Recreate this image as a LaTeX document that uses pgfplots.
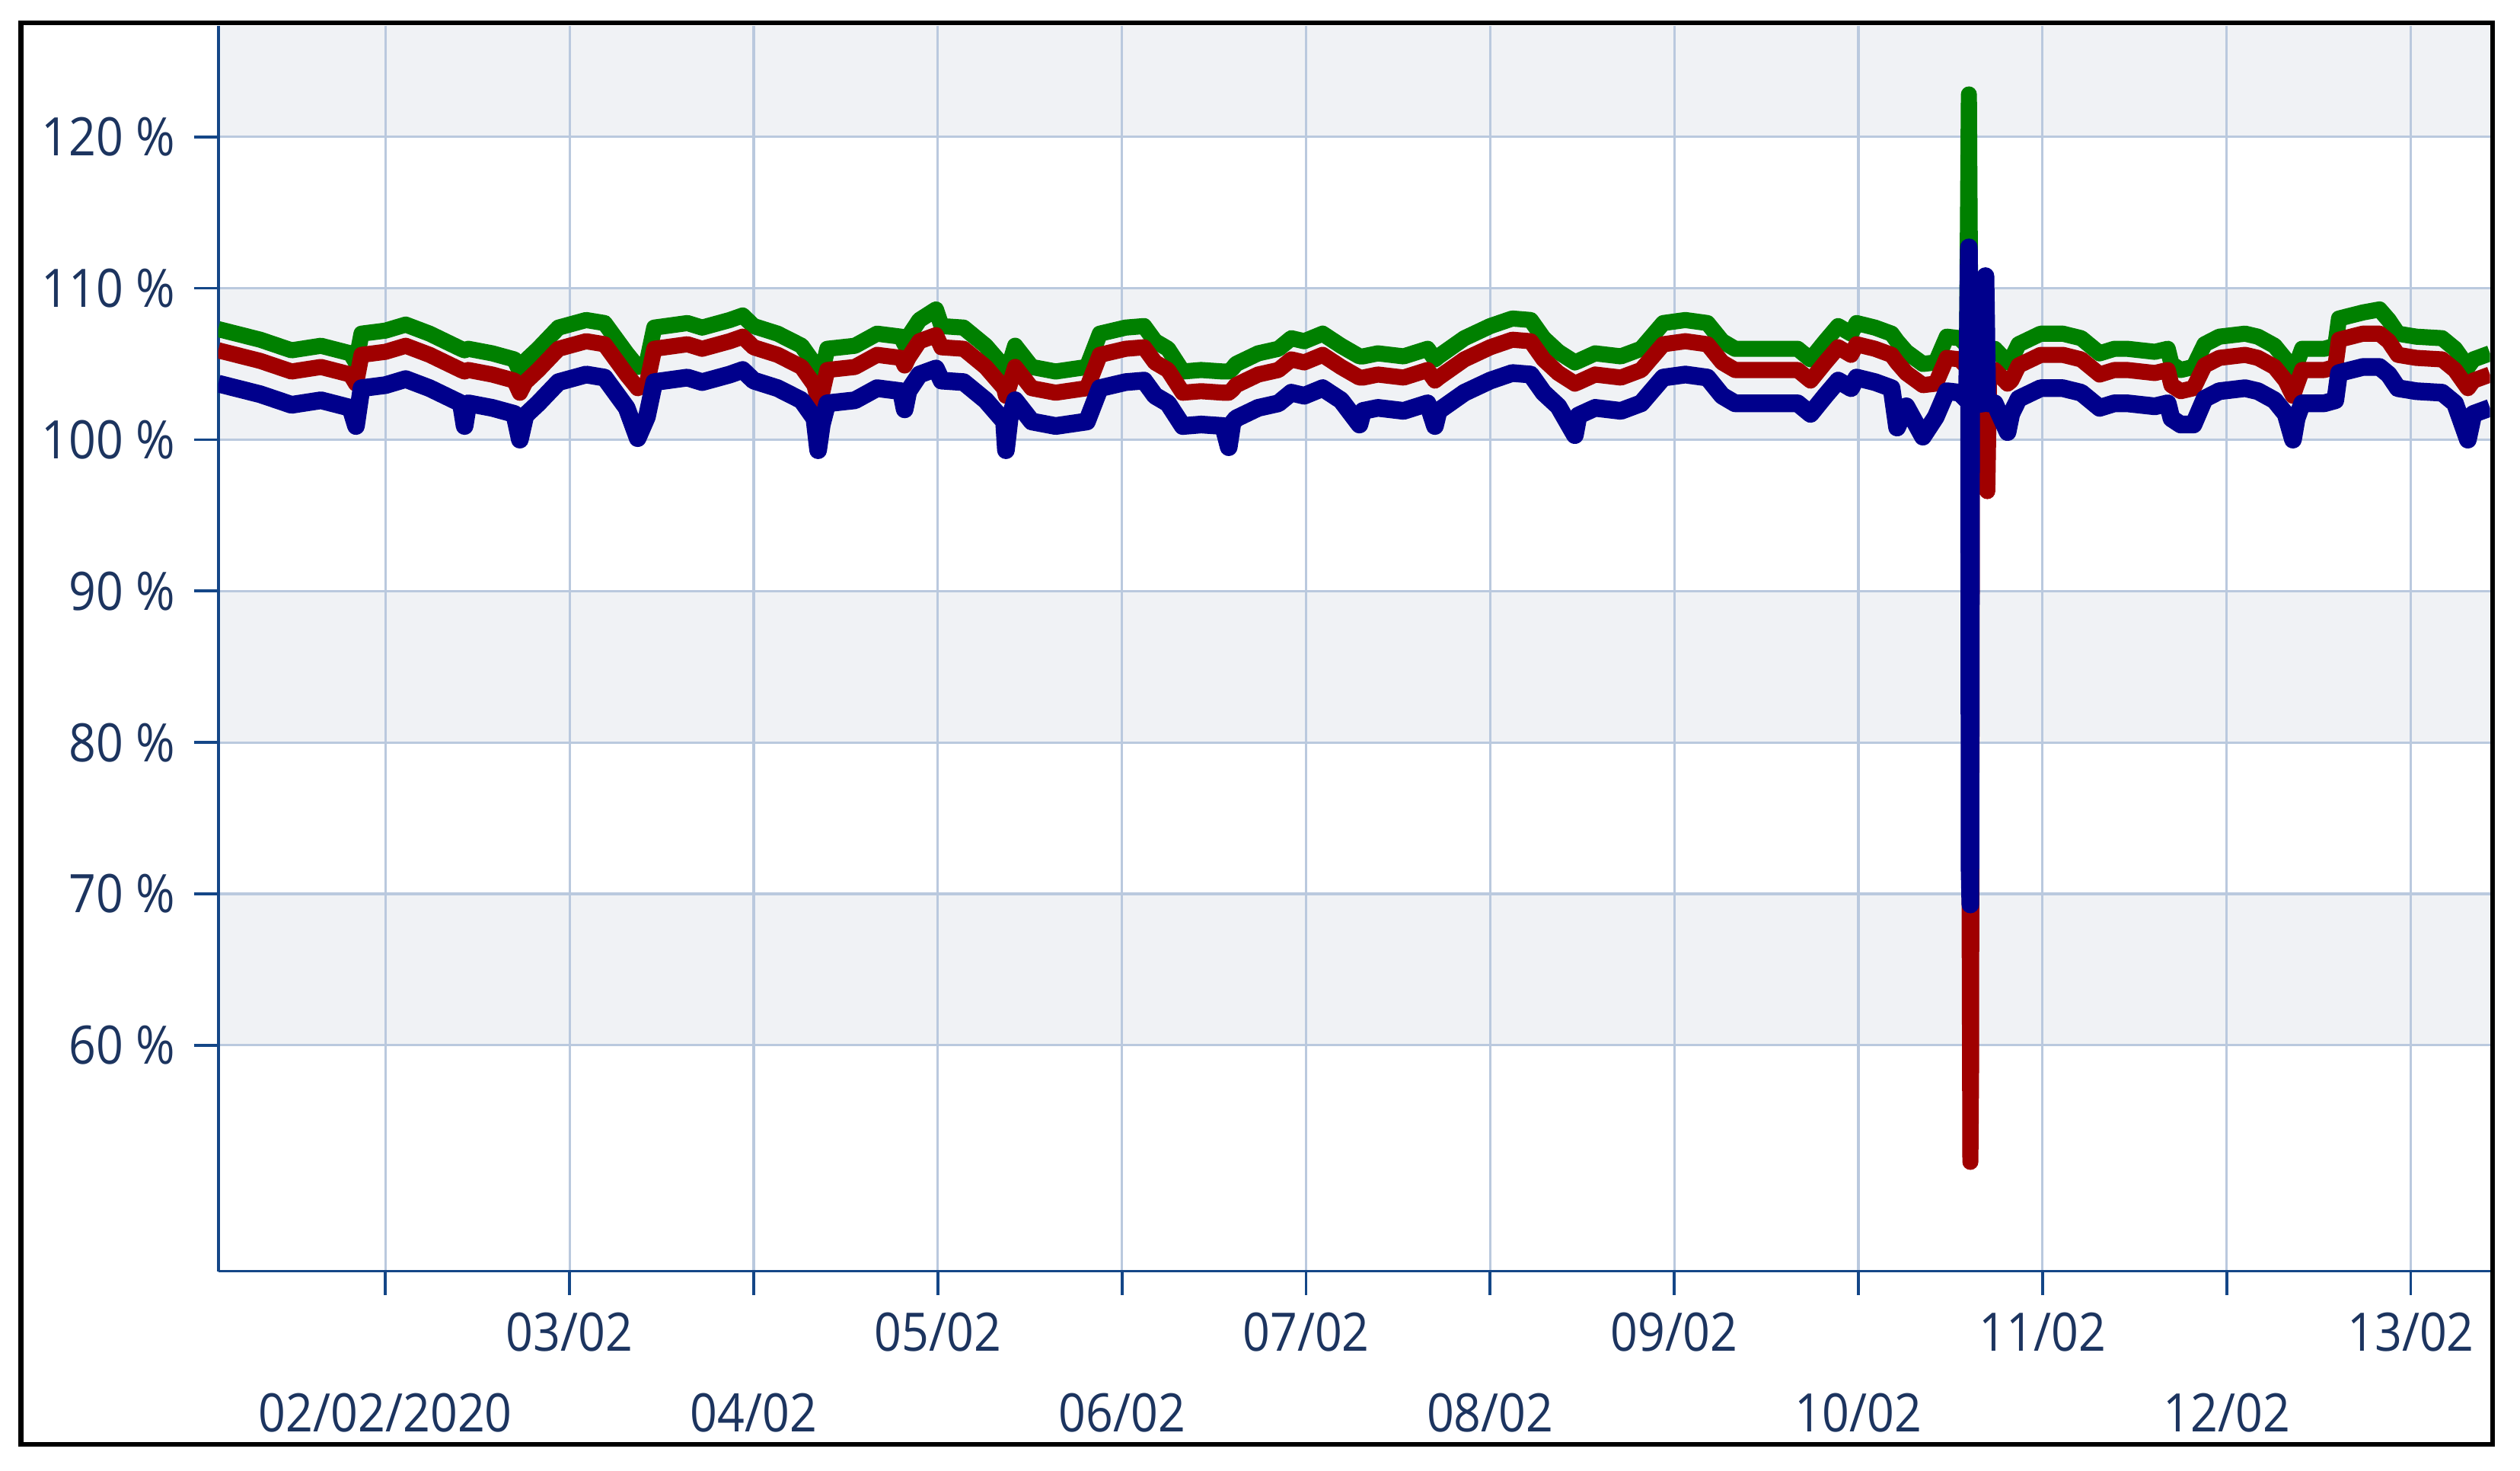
\documentclass[border=0pt]{standalone}
\usepackage{fontspec}
\setmainfont{Open Sans}[FakeStretch=0.9]
\usepackage{pgfplots}
\pgfplotsset{compat=1.18}
\usepackage{pgfplotstable}
\definecolor{bandgray}{RGB}{240,242,245}
\definecolor{gridblue}{RGB}{186,201,222}
\definecolor{axisblue}{RGB}{20,70,135}
\definecolor{labelblue}{RGB}{28,52,95}
\definecolor{sgreen}{RGB}{0,128,0}
\definecolor{sred}{RGB}{160,0,0}
\definecolor{sblue}{RGB}{0,0,140}

\pgfplotstableread{
day g r b
-0.908 107.3 105.9 103.7
-0.68 106.6 105.2 103.0
-0.51 105.9 104.5 102.3
-0.35 106.2 104.8 102.6
-0.19 105.7 104.3 102.1
-0.16 105.1 103.7 100.9
-0.13 107.0 105.6 103.4
0.00 107.2 105.8 103.6
0.11 107.6 106.2 104.0
0.24 107.0 105.6 103.4
0.41 106.0 104.6 102.4
0.43 105.9 104.5 100.9
0.45 106.0 104.6 102.4
0.58 105.7 104.3 102.1
0.70 105.3 103.9 101.7
0.73 104.5 103.1 100.0
0.76 105.2 103.8 101.6
0.83 106.0 104.6 102.4
0.94 107.4 106.0 103.8
1.09 107.9 106.5 104.3
1.19 107.7 106.3 104.1
1.31 105.7 104.3 102.1
1.37 104.8 103.4 100.1
1.42 105.1 103.7 101.5
1.46 107.4 106.0 103.8
1.64 107.7 106.3 104.1
1.72 107.4 106.0 103.8
1.87 107.9 106.5 104.3
1.94 108.2 106.8 104.6
2.00 107.5 106.1 103.9
2.13 107.0 105.6 103.4
2.26 106.2 104.8 102.6
2.33 105.0 103.6 101.4
2.35 104.0 102.6 99.3
2.37 104.4 103.0 101.0
2.40 106.0 104.6 102.4
2.55 106.2 104.8 102.6
2.67 107.0 105.6 103.4
2.80 106.8 105.4 103.2
2.82 106.3 104.9 102.0
2.84 106.8 105.4 103.2
2.90 107.9 106.5 104.3
2.99 108.6 106.9 104.7
3.02 107.5 106.1 103.9
3.14 107.4 106.0 103.8
3.26 106.2 104.8 102.6
3.36 104.8 103.4 101.2
3.37 104.3 102.9 99.3
3.39 105.0 103.6 101.4
3.42 106.2 104.8 102.6
3.51 104.8 103.4 101.2
3.64 104.5 103.1 100.9
3.81 104.8 103.4 101.2
3.88 107.0 105.6 103.4
4.02 107.4 106.0 103.8
4.12 107.5 106.1 103.9
4.18 106.5 105.1 102.9
4.25 106.0 104.6 102.4
4.33 104.5 103.1 100.9
4.43 104.6 103.2 101.0
4.55 104.5 103.1 100.9
4.58 104.5 103.1 99.5
4.60 104.7 103.3 101.1
4.62 105.0 103.6 101.4
4.74 105.7 104.3 102.1
4.85 106.0 104.6 102.4
4.92 106.7 105.3 103.1
4.99 106.5 105.1 102.9
5.09 107.0 105.6 103.4
5.19 106.2 104.8 102.6
5.29 105.5 104.1 101.0
5.31 105.5 104.1 101.9
5.39 105.7 104.3 102.1
5.53 105.5 104.1 101.9
5.66 106.0 104.6 102.4
5.70 105.3 103.9 100.9
5.72 105.5 104.1 101.9
5.86 106.7 105.3 103.1
6.00 107.5 106.1 103.9
6.12 108.0 106.6 104.4
6.22 107.9 106.5 104.3
6.29 106.7 105.3 103.1
6.37 105.8 104.4 102.2
6.46 105.1 103.7 100.3
6.48 105.2 103.8 101.6
6.57 105.7 104.3 102.1
6.71 105.5 104.1 101.9
6.82 106.0 104.6 102.4
6.94 107.7 106.3 104.1
7.06 107.9 106.5 104.3
7.18 107.7 106.3 104.1
7.26 106.5 105.1 102.9
7.33 106.0 104.6 102.4
7.50 106.0 104.6 102.4
7.67 106.0 104.6 102.4
7.74 105.3 103.9 101.7
7.82 106.5 105.1 102.9
7.89 107.5 106.1 103.9
7.96 107.0 105.6 103.4
7.99 107.7 106.3 104.1
8.09 107.4 106.0 103.8
8.18 107.0 105.6 103.4
8.21 106.5 105.1 100.8
8.26 105.8 104.4 102.2
8.35 105.0 103.6 100.2
8.42 105.1 103.7 101.5
8.48 106.8 105.4 103.2
8.55 106.7 105.3 103.1
8.59 106.2 104.8 102.6
8.600 122.8 104.8 112.7
8.604 114.6 69.3 71.5
8.608 106.0 52.3 69.3
8.612 106.0 58.8 103.0
8.616 106.0 104.5 102.3
8.68 106.0 104.6 102.4
8.69 106.0 104.6 110.8
8.70 106.0 96.6 102.4
8.71 106.0 104.6 102.4
8.74 106.0 104.6 102.4
8.81 105.1 103.7 100.5
8.83 105.3 103.9 101.7
8.87 106.3 104.9 102.7
8.99 107.0 105.6 103.4
9.11 107.0 105.6 103.4
9.21 106.7 105.3 103.1
9.31 105.7 104.3 102.1
9.39 106.0 104.6 102.4
9.46 106.0 104.6 102.4
9.61 105.8 104.4 102.2
9.68 106.0 104.6 102.4
9.70 105.0 103.6 101.4
9.75 104.6 103.2 101.0
9.82 104.8 103.4 101.0
9.88 106.3 104.9 102.7
9.96 106.8 105.4 103.2
10.10 107.0 105.6 103.4
10.17 106.8 105.4 103.2
10.26 106.2 104.8 102.6
10.32 105.3 103.9 101.7
10.36 104.3 102.9 100.0
10.38 105.0 103.6 101.4
10.41 106.0 104.6 102.4
10.53 106.0 104.6 102.4
10.59 106.2 104.8 102.6
10.61 108.0 106.6 104.4
10.74 108.4 107.0 104.8
10.83 108.6 107.0 104.8
10.88 107.9 106.5 104.3
10.93 107.0 105.6 103.4
11.03 106.8 105.4 103.2
11.17 106.7 105.3 103.1
11.24 106.0 104.6 102.4
11.31 104.8 103.4 100.0
11.34 105.3 103.9 101.7
11.43 105.7 104.3 102.1
}\data

\begin{document}
\begin{tikzpicture}
\begin{axis}[
  set layers=standard,
  scale only axis,
  width=706.75pt, height=387.5pt,
  xmin=-0.908, xmax=11.43,
  ymin=45.08, ymax=127.35,
  axis lines*=left,
  axis line style={-, color=axisblue, line width=0.9pt},
  tick align=outside,
  major tick length=7.4pt,
  tick style={color=axisblue, line width=0.9pt},
  grid=major,
  major grid style={color=gridblue, line width=0.75pt},
  ytick={60,70,80,90,100,110,120},
  yticklabels={60 \%,70 \%,80 \%,90 \%,100 \%,110 \%,120 \%},
  yticklabel style={xshift=-2.5pt},
  xtick={1,3,5,7,9,11},
  xticklabels={03/02,05/02,07/02,09/02,11/02,13/02},
  xticklabel style={yshift=-2pt},
  extra x ticks={0,2,4,6,8,10},
  extra x tick labels={02/02/2020,04/02,06/02,08/02,10/02,12/02},
  extra x tick style={grid=major, xticklabel style={yshift=-25pt}},
  tick label style={font=\fontsize{16.5}{19}\selectfont, text=labelblue},
  clip=true,
]
\begin{pgfonlayer}{axis background}
\fill[bandgray] (axis cs:-0.908,60) rectangle (axis cs:11.43,70);
\fill[bandgray] (axis cs:-0.908,80) rectangle (axis cs:11.43,90);
\fill[bandgray] (axis cs:-0.908,100) rectangle (axis cs:11.43,110);
\fill[bandgray] (axis cs:-0.908,120) rectangle (axis cs:11.43,127.35);
\end{pgfonlayer}
\addplot[sgreen, line width=5pt, line join=round] table[x=day, y=g] {\data};
\addplot[sred, line width=5pt, line join=round] table[x=day, y=r] {\data};
\addplot[sblue, line width=5.5pt, line join=round] table[x=day, y=b] {\data};
\coordinate (SW) at (rel axis cs:0,0);
\coordinate (NE) at (rel axis cs:1,1);
\end{axis}
\draw[black, line width=1.5pt] ([shift={(-61.4pt,-53.8pt)}]SW) rectangle ([shift={(0.85pt,0.8pt)}]NE);
\path ([shift={(-67.9pt,-62.05pt)}]SW) rectangle ([shift={(9.35pt,7.95pt)}]NE);
\end{tikzpicture}
\end{document}
